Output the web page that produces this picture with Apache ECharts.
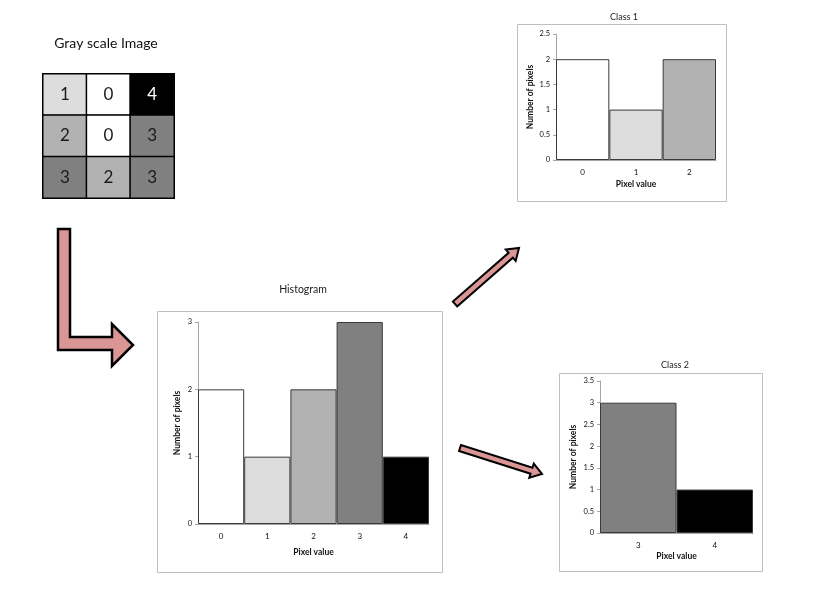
<!DOCTYPE html>
<html>
<head>
<meta charset="utf-8">
<script src="https://cdn.jsdelivr.net/npm/echarts@6/dist/echarts.min.js"></script>
<style>html,body{margin:0;padding:0;background:#fff;}#c{width:813px;height:594px;}</style>
</head>
<body>
<div id="c"></div>
<script>
// ---- data ----
const imageRows = [[1, 0, 4], [2, 0, 3], [3, 2, 3]];
const imageColumns = ['c0', 'c1', 'c2'];
const imageRowNames = ['r0', 'r1', 'r2'];
const grayLevels = [0, 1, 2, 3, 4];
const grayColors = ['#ffffff', '#dddddd', '#b2b2b2', '#808080', '#000000'];
const histCategories = ['0', '1', '2', '3', '4'];
const histValues = [2, 1, 2, 3, 1];
const class1Categories = ['0', '1', '2'];
const class1Values = [2, 1, 2];
const class2Categories = ['3', '4'];
const class2Values = [3, 1];
const titles = ['Gray scale Image', 'Histogram', 'Class 1', 'Class 2'];

const FONT = 'Lato, "Open Sans", sans-serif';
const chart = echarts.init(document.getElementById('c'), null, {renderer: 'canvas'});

const heatData = [];
imageRows.forEach((row, r) => row.forEach((v, c) => {
  heatData.push({value: [c, r, v], label: {color: v === 4 ? '#ffffff' : '#1a1a1a'}});
}));

function barData(cats, vals) {
  return vals.map((v, i) => ({value: v, itemStyle: {color: grayColors[+cats[i]]}}));
}

function arrow(x1, y1, x2, y2, sw, hw, hl) {
  const L = Math.hypot(x2 - x1, y2 - y1);
  const ux = (x2 - x1) / L, uy = (y2 - y1) / L;
  const nx = -uy, ny = ux;
  const bx = x2 - ux * hl, by = y2 - uy * hl;
  return [
    [x1 + nx * sw, y1 + ny * sw], [bx + nx * sw, by + ny * sw], [bx + nx * hw, by + ny * hw],
    [x2, y2], [bx - nx * hw, by - ny * hw], [bx - nx * sw, by - ny * sw], [x1 - nx * sw, y1 - ny * sw]
  ];
}

const axisLineGray = {lineStyle: {color: '#a6a6a6', width: 1}};
function xAx(idx, cats, gap, show) {
  return {
    gridIndex: idx, type: 'category', data: cats,
    axisLine: show ? axisLineGray : {show: false},
    axisTick: {show: false},
    axisLabel: {show: show, fontSize: 8, color: '#111', fontFamily: FONT, margin: 8},
    name: show ? 'Pixel value' : '', nameLocation: 'middle', nameGap: gap,
    nameTextStyle: {fontSize: 8.5, fontWeight: 'bold', color: '#111', fontFamily: FONT}
  };
}
function yAx(idx, max, interval, gap) {
  return {
    gridIndex: idx, type: 'value', min: 0, max: max, interval: interval,
    axisLine: {show: true, lineStyle: {color: '#a6a6a6', width: 1}},
    axisTick: {show: true, length: 3, lineStyle: {color: '#a6a6a6'}},
    splitLine: {show: false},
    axisLabel: {fontSize: 7.5, color: '#111', fontFamily: FONT, margin: 6},
    name: 'Number of pixels', nameLocation: 'middle', nameRotate: 90, nameGap: gap,
    nameTextStyle: {fontSize: 8.5, fontWeight: 'bold', color: '#111', fontFamily: FONT}
  };
}
const barStyle = {borderColor: '#3a3a3a', borderWidth: 1};
const barCommon = {barWidth: '100%', barGap: '0%', itemStyle: barStyle};

const option = {
  backgroundColor: '#ffffff',
  animation: false,
  grid: [
    {left: 43, top: 74, width: 131, height: 124},
    {left: 198, top: 322, width: 231, height: 202},
    {left: 556, top: 34, width: 160, height: 126},
    {left: 600, top: 381, width: 153, height: 152}
  ],
  xAxis: [
    {gridIndex: 0, type: 'category', data: imageColumns, show: false},
    xAx(1, histCategories, 24, true),
    xAx(2, class1Categories, 20, true),
    xAx(3, class2Categories, 19, true)
  ],
  yAxis: [
    {gridIndex: 0, type: 'category', data: imageRowNames, inverse: true, show: false},
    yAx(1, 3, 1, 16),
    yAx(2, 2.5, 0.5, 21),
    yAx(3, 3.5, 0.5, 22)
  ],
  visualMap: {
    type: 'piecewise', show: false, seriesIndex: 0, dimension: 2,
    pieces: grayLevels.map(v => ({value: v, color: grayColors[v]}))
  },
  series: [
    {
      type: 'heatmap', xAxisIndex: 0, yAxisIndex: 0, data: heatData,
      itemStyle: {borderColor: '#000', borderWidth: 1.5},
      label: {show: true, fontSize: 17, fontFamily: FONT},
      emphasis: {disabled: true}
    },
    Object.assign({type: 'bar', xAxisIndex: 1, yAxisIndex: 1, data: barData(histCategories, histValues)}, barCommon),
    Object.assign({type: 'bar', xAxisIndex: 2, yAxisIndex: 2, data: barData(class1Categories, class1Values)}, barCommon),
    Object.assign({type: 'bar', xAxisIndex: 3, yAxisIndex: 3, data: barData(class2Categories, class2Values)}, barCommon)
  ],
  graphic: [
    {type: 'rect', shape: {x: 157.5, y: 311.5, width: 285, height: 261}, style: {fill: 'none', stroke: '#bfbfbf', lineWidth: 1}, z: -1},
    {type: 'rect', shape: {x: 517.5, y: 24.5, width: 209, height: 177}, style: {fill: 'none', stroke: '#bfbfbf', lineWidth: 1}, z: -1},
    {type: 'rect', shape: {x: 559.5, y: 373.5, width: 203, height: 198}, style: {fill: 'none', stroke: '#bfbfbf', lineWidth: 1}, z: -1},
    {type: 'text', x: 106, y: 43, style: {text: titles[0], fontSize: 14, fontFamily: FONT, fill: '#111', align: 'center', verticalAlign: 'middle'}},
    {type: 'text', x: 303, y: 290, style: {text: titles[1], fontSize: 10.5, fontFamily: FONT, fill: '#222', align: 'center', verticalAlign: 'middle'}},
    {type: 'text', x: 624, y: 17, style: {text: titles[2], fontSize: 9, fontFamily: FONT, fill: '#222', align: 'center', verticalAlign: 'middle'}},
    {type: 'text', x: 675, y: 365, style: {text: titles[3], fontSize: 9, fontFamily: FONT, fill: '#222', align: 'center', verticalAlign: 'middle'}},
    {type: 'polygon', shape: {points: [[58, 229], [70, 229], [70, 337], [112, 337], [112, 324], [133, 345], [112, 366], [112, 350], [58, 350]]},
      style: {fill: '#d99694', stroke: '#000', lineWidth: 2.5, lineJoin: 'miter'}},
    {type: 'polygon', shape: {points: arrow(455, 304, 519, 248, 3.2, 7.5, 11)},
      style: {fill: '#d99694', stroke: '#000', lineWidth: 2, lineJoin: 'miter'}},
    {type: 'polygon', shape: {points: arrow(460, 448, 542, 474, 3.2, 7.5, 11)},
      style: {fill: '#d99694', stroke: '#000', lineWidth: 2, lineJoin: 'miter'}}
  ]
};
chart.setOption(option);
</script>
</body>
</html>
